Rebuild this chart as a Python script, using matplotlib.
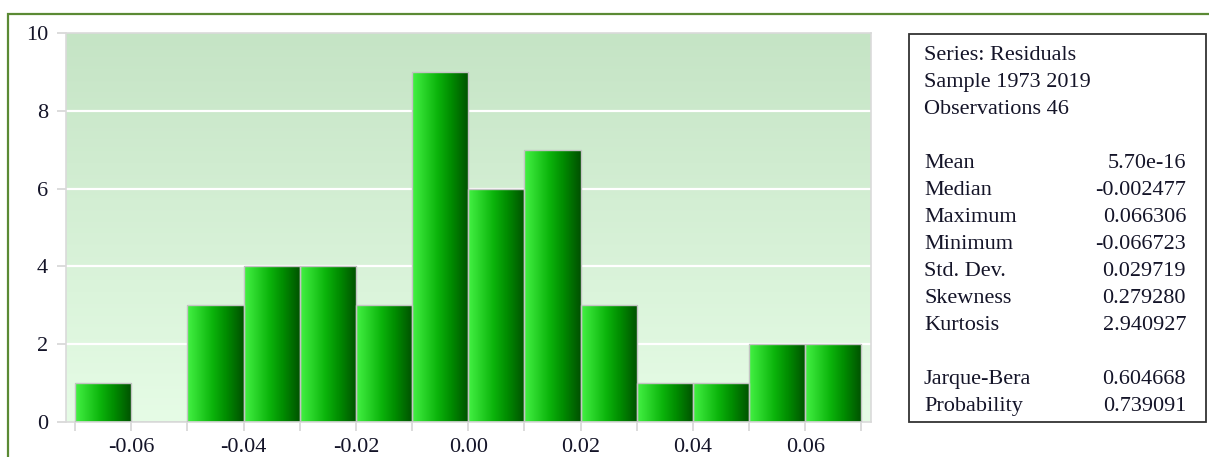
import numpy as np
import matplotlib
matplotlib.use("Agg")
import matplotlib.pyplot as plt
from matplotlib.colors import LinearSegmentedColormap
from matplotlib.patches import Rectangle

# Histogram of regression residuals
bin_edges = [-0.07, -0.06, -0.05, -0.04, -0.03, -0.02, -0.01,
             0.00, 0.01, 0.02, 0.03, 0.04, 0.05, 0.06, 0.07]
counts = [1, 0, 3, 4, 4, 3, 9, 6, 7, 3, 1, 1, 2, 2]

x_tick_values = [-0.06, -0.04, -0.02, 0.00, 0.02, 0.04, 0.06]
x_tick_labels = ["-0.06", "-0.04", "-0.02", "0.00", "0.02", "0.04", "0.06"]
y_tick_values = [0, 2, 4, 6, 8, 10]

header_lines = ["Series: Residuals", "Sample 1973 2019", "Observations 46"]
stat_names = ["Mean", "Median", "Maximum", "Minimum", "Std. Dev.",
              "Skewness", "Kurtosis", None, "Jarque-Bera", "Probability"]
stat_values = ["5.70e-16", "-0.002477", "0.066306", "-0.066723", "0.029719",
               "0.279280", "2.940927", None, "0.604668", "0.739091"]

W, H = 1209, 457
SERIF = "Liberation Serif"
TEXT_COLOR = "#141428"

fig = plt.figure(figsize=(W / 100, H / 100), dpi=100)
fig.patch.set_facecolor("white")

# outer frame running off the right and bottom edges
fig.patches.append(Rectangle((8 / W, -0.2), 1.2, 1 - 14 / H + 0.2,
                             transform=fig.transFigure, fill=False,
                             edgecolor="#5b8a34", linewidth=1.6, zorder=0))

ax = fig.add_axes([66 / W, 1 - 422 / H, (871 - 66) / W, (422 - 33) / H])

# vertical background gradient
bg_cmap = LinearSegmentedColormap.from_list("bg", ["#e6fce6", "#c5e4c5"])
ax.imshow(np.linspace(0, 1, 256).reshape(-1, 1), cmap=bg_cmap, origin="lower",
          extent=(0, 1, 0, 1), transform=ax.transAxes, aspect="auto",
          zorder=0, interpolation="bilinear")

for yv in y_tick_values[1:-1]:
    ax.axhline(yv, color="white", linewidth=1.6, zorder=1)

# bars with horizontal light-to-dark green shading
bar_cmap = LinearSegmentedColormap.from_list(
    "bar", [(0.0, "#44f244"), (0.45, "#0bb40b"), (0.7, "#008a00"), (1.0, "#005000")])
widths = np.diff(bin_edges)
bars = ax.bar(bin_edges[:-1], counts, width=widths, align="edge",
              facecolor="none", edgecolor="#c4c4c4", linewidth=1.0, zorder=3)
grad = np.linspace(0, 1, 256).reshape(1, -1)
for patch, c in zip(bars.patches, counts):
    if c <= 0:
        continue
    x0 = patch.get_x()
    x1 = x0 + patch.get_width()
    im = ax.imshow(grad, cmap=bar_cmap, extent=(x0, x1, 0, c), aspect="auto",
                   zorder=2, interpolation="bilinear")
    im.set_clip_path(patch)

ax.set_xlim(-0.0716, 0.0717)
ax.set_ylim(0, 10)

for s in ax.spines.values():
    s.set_color("#dadada")
    s.set_linewidth(1.2)

ax.set_xticks(bin_edges, minor=True)
ax.set_xticks(x_tick_values)
ax.set_xticklabels(x_tick_labels)
ax.set_yticks(y_tick_values)
ax.set_yticklabels([str(v) for v in y_tick_values])
ax.tick_params(axis="both", which="both", color="#d6d6d6", width=1.2,
               length=6.5, direction="out")
ax.tick_params(axis="x", pad=5)
ax.tick_params(axis="y", pad=6.5)
for lab in ax.get_xticklabels() + ax.get_yticklabels():
    lab.set_fontfamily(SERIF)
    lab.set_fontsize(16)
    lab.set_color(TEXT_COLOR)

# statistics panel
fig.patches.append(Rectangle((909 / W, 1 - 422 / H), (1206 - 909) / W, (422 - 34) / H,
                             transform=fig.transFigure, fill=True, facecolor="white",
                             edgecolor="#333333", linewidth=1.3, zorder=1))

left_x = 924 / W
right_x = 1186 / W
baseline = 60
step = 27
lines = [(h, None) for h in header_lines] + [(None, None)] + list(zip(stat_names, stat_values))
for i, (name, value) in enumerate(lines):
    y = 1 - (baseline + i * step) / H
    if name is not None:
        fig.text(left_x, y, name, ha="left", va="baseline", fontsize=16,
                 family=SERIF, color=TEXT_COLOR, zorder=2)
    if value is not None:
        fig.text(right_x, y, value, ha="right", va="baseline", fontsize=16,
                 family=SERIF, color=TEXT_COLOR, zorder=2)

fig.savefig("out.png", dpi=100)
